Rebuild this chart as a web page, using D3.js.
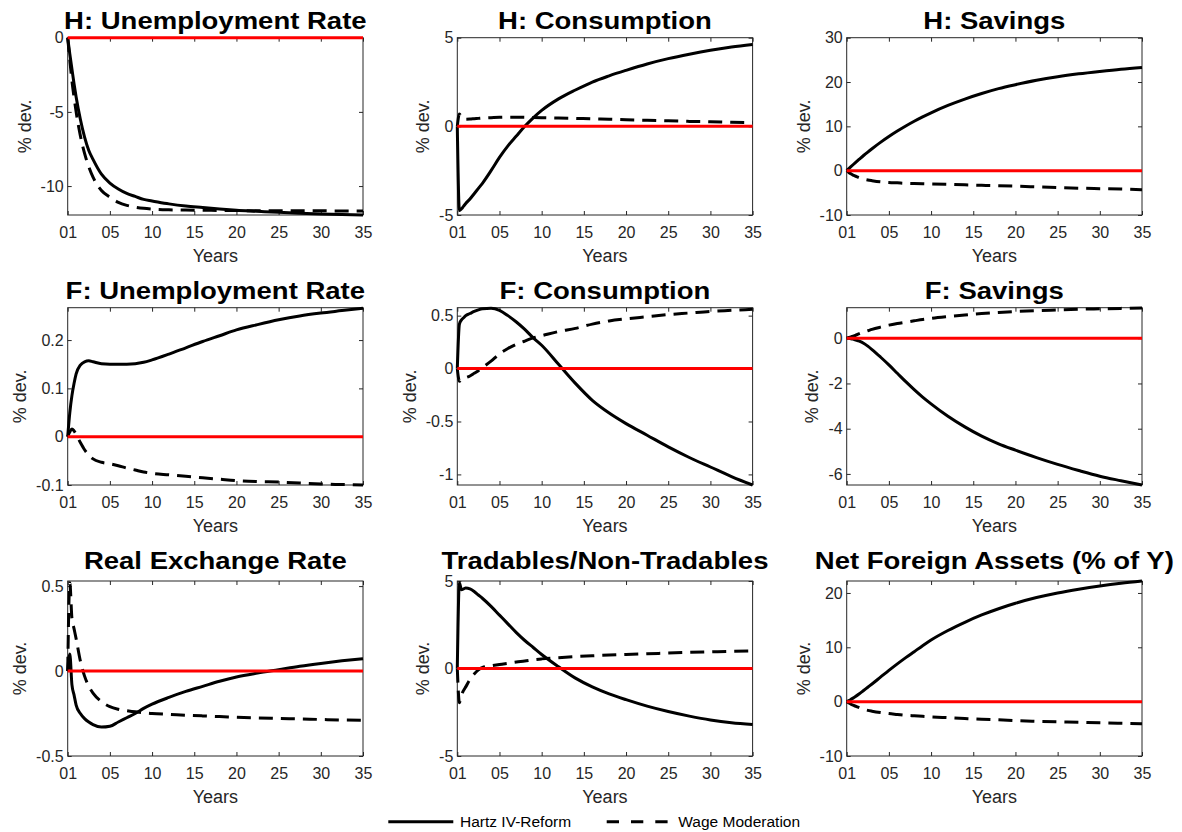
<!DOCTYPE html>
<html>
<head>
<meta charset="utf-8">
<script src="https://cdn.jsdelivr.net/npm/d3@7"></script>
<style>
  body { margin: 0; background: #fff; }
  svg { display: block; }
</style>
</head>
<body>
<svg id="fig" width="1182" height="832"></svg>
<script>
// ---- data: impulse responses, % deviation from steady state, by year ----
const years = [0, 0.25, 0.5, 0.75, 1, 1.5, 2, 2.5, 3, 4, 5, 6, 7, 8, 9, 10, 12, 14, 16, 18, 20, 22.5, 25, 27.5, 30, 32.5, 35];
const xTickValues = [0, 5, 10, 15, 20, 25, 30, 35];
const xTickLabels = ["01", "05", "10", "15", "20", "25", "30", "35"];
const seriesNames = ["Hartz IV-Reform", "Wage Moderation"];

const titles = [
  "H: Unemployment Rate", "H: Consumption", "H: Savings",
  "F: Unemployment Rate", "F: Consumption", "F: Savings",
  "Real Exchange Rate", "Tradables/Non-Tradables", "Net Foreign Assets (% of Y)"
];

const hUnempHartz = [0, -1.1, -2.1, -3.1, -4.0, -5.5, -6.7, -7.6, -8.2, -9.2, -9.8, -10.2, -10.5, -10.7, -10.9, -11.0, -11.2, -11.35, -11.45, -11.55, -11.63, -11.7, -11.77, -11.83, -11.88, -11.92, -11.95];
const hUnempWage  = [0, -1.5, -2.9, -4.0, -5.0, -6.6, -7.8, -8.7, -9.4, -10.3, -10.75, -11.1, -11.3, -11.42, -11.5, -11.55, -11.6, -11.62, -11.63, -11.64, -11.65, -11.66, -11.66, -11.67, -11.67, -11.68, -11.68];

const hConsHartz = [0, -4.75, -4.65, -4.5, -4.35, -4.1, -3.8, -3.5, -3.2, -2.5, -1.75, -1.1, -0.55, 0.0, 0.48, 0.9, 1.55, 2.05, 2.5, 2.85, 3.16, 3.52, 3.82, 4.07, 4.29, 4.47, 4.62];
const hConsWage  = [0, 0.7, 0.5, 0.43, 0.4, 0.41, 0.43, 0.45, 0.47, 0.49, 0.51, 0.52, 0.52, 0.51, 0.5, 0.49, 0.47, 0.45, 0.42, 0.4, 0.37, 0.34, 0.31, 0.28, 0.26, 0.23, 0.21];

const hSavHartz = [0, 0.45, 0.9, 1.34, 1.77, 2.6, 3.42, 4.2, 4.95, 6.38, 7.7, 8.93, 10.08, 11.15, 12.14, 13.06, 14.72, 16.15, 17.4, 18.5, 19.4, 20.4, 21.2, 21.85, 22.4, 22.9, 23.3];
const hSavWage  = [0, -0.4, -0.7, -1.0, -1.2, -1.6, -1.9, -2.1, -2.25, -2.5, -2.65, -2.75, -2.85, -2.9, -2.95, -3.0, -3.1, -3.2, -3.3, -3.4, -3.5, -3.65, -3.8, -3.95, -4.05, -4.15, -4.3];

const fUnempHartz = [0, 0.05, 0.085, 0.11, 0.13, 0.148, 0.155, 0.157, 0.155, 0.151, 0.15, 0.15, 0.15, 0.151, 0.154, 0.159, 0.171, 0.184, 0.197, 0.209, 0.221, 0.232, 0.242, 0.25, 0.256, 0.261, 0.266];
const fUnempWage  = [0, 0.01, 0.016, 0.012, 0.005, -0.012, -0.027, -0.038, -0.046, -0.053, -0.056, -0.06, -0.065, -0.069, -0.073, -0.076, -0.079, -0.082, -0.085, -0.088, -0.091, -0.093, -0.094, -0.096, -0.098, -0.099, -0.1];

const fConsHartz = [0, 0.42, 0.46, 0.48, 0.5, 0.52, 0.54, 0.555, 0.565, 0.57, 0.55, 0.5, 0.44, 0.37, 0.29, 0.22, 0.04, -0.14, -0.3, -0.42, -0.52, -0.63, -0.74, -0.84, -0.93, -1.02, -1.1];
const fConsWage  = [0, -0.12, -0.1, -0.09, -0.085, -0.07, -0.045, -0.02, 0.01, 0.07, 0.14, 0.19, 0.23, 0.26, 0.29, 0.31, 0.35, 0.38, 0.42, 0.45, 0.47, 0.49, 0.51, 0.525, 0.54, 0.55, 0.56];

const fSavHartz = [0, -0.005, -0.02, -0.04, -0.07, -0.13, -0.22, -0.35, -0.5, -0.83, -1.18, -1.55, -1.92, -2.27, -2.6, -2.9, -3.45, -3.92, -4.33, -4.67, -4.95, -5.28, -5.58, -5.85, -6.1, -6.3, -6.49];
const fSavWage  = [0, 0.03, 0.06, 0.09, 0.12, 0.2, 0.27, 0.33, 0.39, 0.49, 0.58, 0.65, 0.71, 0.77, 0.83, 0.88, 0.96, 1.03, 1.09, 1.14, 1.18, 1.22, 1.25, 1.28, 1.3, 1.32, 1.34];

const rerHartz = [0, 0.1, -0.08, -0.14, -0.2, -0.25, -0.28, -0.3, -0.315, -0.33, -0.325, -0.3, -0.275, -0.25, -0.22, -0.195, -0.155, -0.12, -0.09, -0.06, -0.035, -0.012, 0.008, 0.028, 0.045, 0.06, 0.073];
const rerWage  = [0, 0.52, 0.31, 0.25, 0.19, 0.06, -0.03, -0.09, -0.13, -0.18, -0.21, -0.225, -0.233, -0.24, -0.245, -0.25, -0.255, -0.26, -0.264, -0.268, -0.272, -0.276, -0.279, -0.282, -0.285, -0.288, -0.29];

const tntHartz = [0, 4.9, 4.5, 4.55, 4.6, 4.55, 4.4, 4.2, 4.0, 3.55, 3.05, 2.55, 2.05, 1.6, 1.2, 0.8, 0.1, -0.55, -1.05, -1.45, -1.78, -2.15, -2.46, -2.72, -2.94, -3.1, -3.2];
const tntWage  = [0, -1.95, -1.5, -1.25, -1.05, -0.62, -0.32, -0.08, 0.06, 0.15, 0.23, 0.3, 0.37, 0.43, 0.5, 0.55, 0.62, 0.68, 0.73, 0.77, 0.8, 0.84, 0.88, 0.92, 0.95, 0.98, 1.0];

const nfaHartz = [0, 0.2, 0.42, 0.65, 0.9, 1.45, 2.05, 2.65, 3.25, 4.5, 5.75, 6.95, 8.1, 9.2, 10.3, 11.35, 13.1, 14.6, 15.95, 17.1, 18.1, 19.15, 20.0, 20.7, 21.3, 21.8, 22.2];
const nfaWage  = [0, -0.25, -0.45, -0.65, -0.8, -1.1, -1.4, -1.6, -1.75, -2.0, -2.2, -2.35, -2.5, -2.6, -2.7, -2.8, -2.95, -3.1, -3.25, -3.35, -3.5, -3.62, -3.72, -3.8, -3.9, -3.98, -4.05];

// y-axis limits and tick values for each panel
const yLimits = [
  [-11.95, 0], [-5, 5], [-10, 30],
  [-0.1, 0.267], [-1.1, 0.575], [-6.49, 1.35],
  [-0.5, 0.53], [-5, 5], [-10, 22.2]
];
const yTicks = [
  [-10, -5, 0], [-5, 0, 5], [-10, 0, 10, 20, 30],
  [-0.1, 0, 0.1, 0.2], [-1, -0.5, 0, 0.5], [-6, -4, -2, 0],
  [-0.5, 0, 0.5], [-5, 0, 5], [-10, 0, 10, 20]
];

const hartzSeries = [hUnempHartz, hConsHartz, hSavHartz, fUnempHartz, fConsHartz, fSavHartz, rerHartz, tntHartz, nfaHartz];
const wageSeries  = [hUnempWage, hConsWage, hSavWage, fUnempWage, fConsWage, fSavWage, rerWage, tntWage, nfaWage];

// ---- layout & style ----
const FONT = "'Liberation Sans', Arial, Helvetica, sans-serif";
const AXIS_COLOR = "#262626";
const colLeft = [67.7, 457.3, 846.7];
const plotW = 295.3;
const rowTop = [37.7, 307.7, 581];
const rowBottom = [215, 485, 756];
const titleBaseline = [28.5, 298.5, 568.5];
const TITLE_SIZE = 23.5;
const TITLE_STRETCH = 1.17;
const TICK_FONT = 16;
const LABEL_FONT = 18;
const TICK_LEN = 4;
const DASH = "14,8";

const svg = d3.select("#fig");
const fmt = v => String(v);

titles.forEach((title, i) => {
  const r = Math.floor(i / 3), c = i % 3;
  const left = colLeft[c], right = left + plotW;
  const top = rowTop[r], bottom = rowBottom[r];

  const x = d3.scaleLinear().domain([0, 35]).range([left, right]);
  const y = d3.scaleLinear().domain(yLimits[i]).range([bottom, top]);

  const g = svg.append("g").attr("class", "panel");

  // axes box
  g.append("rect")
    .attr("x", left).attr("y", top)
    .attr("width", right - left).attr("height", bottom - top)
    .attr("fill", "none").attr("stroke", AXIS_COLOR).attr("stroke-width", 1);

  // bottom axis with labels, ticks pointing inward
  const gx = g.append("g")
    .attr("transform", `translate(0,${bottom})`)
    .call(d3.axisBottom(x).tickValues(xTickValues)
      .tickFormat((d, k) => xTickLabels[k])
      .tickSizeInner(-TICK_LEN).tickSizeOuter(0).tickPadding(11.3));
  // top axis: ticks only
  const gxt = g.append("g")
    .attr("transform", `translate(0,${top})`)
    .call(d3.axisTop(x).tickValues(xTickValues).tickFormat("")
      .tickSizeInner(-TICK_LEN).tickSizeOuter(0));
  // left axis with labels
  const gy = g.append("g")
    .attr("transform", `translate(${left},0)`)
    .call(d3.axisLeft(y).tickValues(yTicks[i]).tickFormat(fmt)
      .tickSizeInner(-TICK_LEN).tickSizeOuter(0).tickPadding(4));
  // right axis: ticks only
  const gyr = g.append("g")
    .attr("transform", `translate(${right},0)`)
    .call(d3.axisRight(y).tickValues(yTicks[i]).tickFormat("")
      .tickSizeInner(-TICK_LEN).tickSizeOuter(0));

  [gx, gxt, gy, gyr].forEach(a => {
    a.select(".domain").remove();
    a.attr("color", AXIS_COLOR).attr("font-family", FONT).attr("font-size", TICK_FONT);
    a.selectAll(".tick line").attr("stroke-width", 1);
  });
  gx.selectAll(".tick text").attr("fill", AXIS_COLOR);
  gy.selectAll(".tick text").attr("fill", AXIS_COLOR);

  // y-axis label placed clear of the widest tick label
  let maxW = 0;
  gy.selectAll(".tick text").each(function () {
    maxW = Math.max(maxW, this.getComputedTextLength());
  });
  const ylx = left - maxW - 14;
  g.append("text")
    .attr("transform", `translate(${ylx},${(top + bottom) / 2}) rotate(-90)`)
    .attr("text-anchor", "middle")
    .attr("font-family", FONT).attr("font-size", LABEL_FONT)
    .attr("fill", AXIS_COLOR)
    .text("% dev.");

  // x-axis label
  g.append("text")
    .attr("x", (left + right) / 2).attr("y", bottom + 47)
    .attr("text-anchor", "middle")
    .attr("font-family", FONT).attr("font-size", LABEL_FONT)
    .attr("fill", AXIS_COLOR)
    .text("Years");

  // title, drawn slightly wide
  const t = g.append("text")
    .attr("x", (left + right) / 2).attr("y", titleBaseline[r])
    .attr("text-anchor", "middle")
    .attr("font-family", FONT).attr("font-size", TITLE_SIZE)
    .attr("font-weight", "bold")
    .attr("fill", "#000")
    .text(title);
  const natural = t.node().getComputedTextLength();
  t.attr("textLength", natural * TITLE_STRETCH).attr("lengthAdjust", "spacingAndGlyphs");

  // response lines
  const line = d3.line()
    .x((d, k) => x(years[k]))
    .y(d => y(d))
    .curve(d3.curveMonotoneX);

  g.append("path")
    .datum(hartzSeries[i])
    .attr("d", line)
    .attr("fill", "none").attr("stroke", "#000")
    .attr("stroke-width", 3).attr("stroke-linejoin", "round");

  g.append("path")
    .datum(wageSeries[i])
    .attr("d", line)
    .attr("fill", "none").attr("stroke", "#000")
    .attr("stroke-width", 3).attr("stroke-dasharray", DASH)
    .attr("stroke-linejoin", "round");

  // steady-state reference line
  g.append("line")
    .attr("x1", x(0)).attr("x2", x(35))
    .attr("y1", y(0)).attr("y2", y(0))
    .attr("stroke", "#ff0000").attr("stroke-width", 3);
});

// ---- legend ----
const legend = svg.append("g").attr("class", "legend");
const legY = 821.7;
legend.append("line")
  .attr("x1", 388.3).attr("x2", 453.3).attr("y1", legY).attr("y2", legY)
  .attr("stroke", "#000").attr("stroke-width", 3);
legend.append("text")
  .attr("x", 460).attr("y", legY + 5.5)
  .attr("font-family", FONT).attr("font-size", 15.5).attr("fill", "#000")
  .text(seriesNames[0]);
legend.append("line")
  .attr("x1", 606.7).attr("x2", 668.3).attr("y1", legY).attr("y2", legY)
  .attr("stroke", "#000").attr("stroke-width", 3).attr("stroke-dasharray", "12.3,12");
legend.append("text")
  .attr("x", 678.3).attr("y", legY + 5.5)
  .attr("font-family", FONT).attr("font-size", 15.5).attr("fill", "#000")
  .text(seriesNames[1]);
</script>
</body>
</html>
